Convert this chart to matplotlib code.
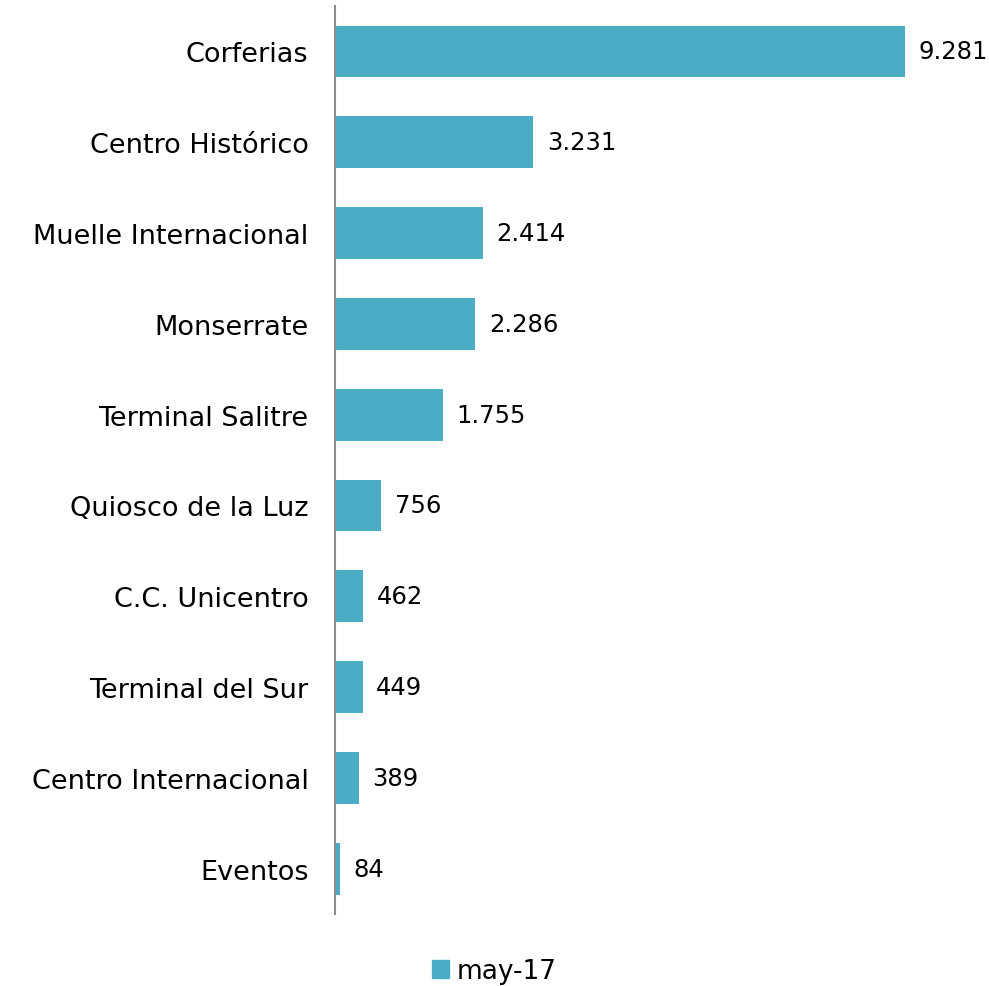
import matplotlib.pyplot as plt
from matplotlib.patches import Patch

places = ['Corferias', 'Centro Histórico', 'Muelle Internacional', 'Monserrate',
          'Terminal Salitre', 'Quiosco de la Luz', 'C.C. Unicentro',
          'Terminal del Sur', 'Centro Internacional', 'Eventos']
values = [9281, 3231, 2414, 2286, 1755, 756, 462, 449, 389, 84]
series_name = 'may-17'

color = '#4BACC6'
plt.rcParams['font.family'] = ['DejaVu Sans']

fig = plt.figure(figsize=(9.89, 9.87), dpi=100)
ax = fig.add_axes([0.3387, 0.0729, 0.652, 0.92])

ypos = range(len(places))
ax.barh(ypos, values, height=0.57, color=color)
ax.set_ylim(len(places) - 0.5, -0.5)
ax.set_xlim(0, 10500)

for y, v in zip(ypos, values):
    ax.text(v + 220, y, f'{v:,}'.replace(',', '.'), va='center', ha='left',
            fontsize=17.5, color='black')

ax.set_yticks(list(ypos))
ax.set_yticklabels(places, fontsize=19.5)
ax.tick_params(axis='y', length=0, pad=19)
ax.set_xticks([])
for side in ['top', 'right', 'bottom']:
    ax.spines[side].set_visible(False)
ax.spines['left'].set_color('#8c8c8c')
ax.spines['left'].set_linewidth(1.5)

fig.legend(handles=[Patch(color=color, label=series_name)], loc='lower center',
           bbox_to_anchor=(0.5, -0.022), frameon=False, fontsize=19,
           handlelength=0.65, handleheight=0.65, handletextpad=0.3)

fig.savefig('out.png', dpi=100)
